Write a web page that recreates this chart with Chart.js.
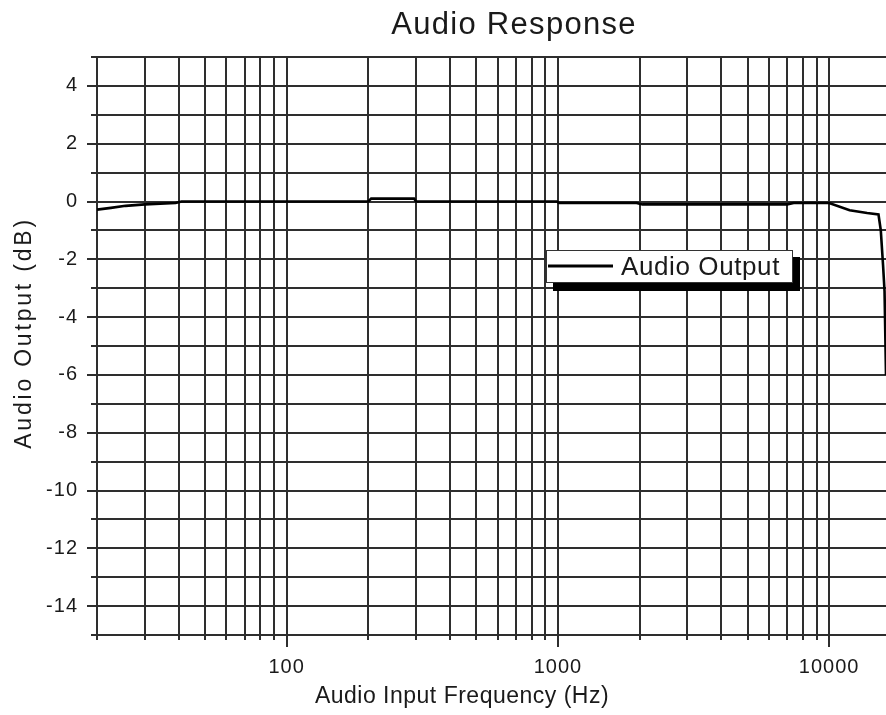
<!DOCTYPE html>
<html><head><meta charset="utf-8">
<script src="https://cdn.jsdelivr.net/npm/chart.js@4/dist/chart.umd.min.js"></script>
<style>html,body{margin:0;padding:0;background:#fff}canvas{display:block}</style>
</head><body>
<canvas id="c" width="886" height="715"></canvas>
<script>
// ---- data ----
const freqHz   = [20, 22.5, 25.5, 30, 39, 41, 200, 205, 295, 300, 990, 1010, 1950, 2050, 7000, 7400, 10000, 11900, 13800, 15200, 15500, 15800, 16000, 16200];
const outputDb = [-0.28, -0.22, -0.15, -0.1, -0.05, 0, 0, 0.1, 0.1, 0, 0, -0.05, -0.05, -0.1, -0.1, -0.05, -0.05, -0.3, -0.4, -0.45, -1.0, -2.2, -3.1, -6.0];
const xGridTicks = [20,30,40,50,60,70,80,90,100,200,300,400,500,600,700,800,900,1000,2000,3000,4000,5000,6000,7000,8000,9000,10000];
const xLabelTicks = [100, 1000, 10000];
const yMin = -15, yMax = 5;
const yLabelTicks = [4, 2, 0, -2, -4, -6, -8, -10, -12, -14];
const xMin = 20, xMax = 16200;
const titleText = 'Audio Response';
const xTitleText = 'Audio Input Frequency (Hz)';
const yTitleText = 'Audio Output (dB)';
const seriesName = 'Audio Output';

const FONT = '"Liberation Sans", Arial, sans-serif';
const GRID = '#2e2e2e';
const points = freqHz.map((f, i) => ({x: f, y: outputDb[i]}));

const decorPlugin = {
  id: 'decor',
  beforeDraw(chart) {
    const ctx = chart.ctx;
    ctx.letterSpacing = '1px';
  },
  afterDraw(chart) {
    const ctx = chart.ctx;
    const ca = chart.chartArea;
    const xs = chart.scales.x, ys = chart.scales.y;
    ctx.save();
    ctx.strokeStyle = GRID;
    ctx.lineWidth = 2;
    // x tick marks
    xGridTicks.forEach(v => {
      const px = Math.round(xs.getPixelForValue(v));
      const len = xLabelTicks.includes(v) ? 12 : 5;
      ctx.beginPath(); ctx.moveTo(px, ca.bottom); ctx.lineTo(px, ca.bottom + len); ctx.stroke();
    });
    // y tick marks
    for (let v = yMin; v <= yMax; v++) {
      const py = Math.round(ys.getPixelForValue(v));
      const len = yLabelTicks.includes(v) ? 10 : 6;
      ctx.beginPath(); ctx.moveTo(ca.left - len, py); ctx.lineTo(ca.left, py); ctx.stroke();
    }
    ctx.restore();

    // texts
    ctx.save();
    ctx.fillStyle = '#1a1a1a';
    ctx.textAlign = 'center';
    ctx.textBaseline = 'alphabetic';
    ctx.font = '31px ' + FONT;
    ctx.letterSpacing = '1.3px';
    ctx.fillText(titleText, 514, 34);
    ctx.font = '23px ' + FONT;
    ctx.letterSpacing = '0.5px';
    ctx.fillText(xTitleText, 462, 703);
    ctx.translate(31, 333);
    ctx.rotate(-Math.PI / 2);
    ctx.letterSpacing = '2.8px';
    ctx.fillText(yTitleText, 0, 0);
    ctx.restore();

    // legend box with shadow
    ctx.save();
    const lx = 546, ly = 250, lw = 247, lh = 33;
    ctx.fillStyle = '#000';
    ctx.fillRect(lx + 7, ly + 7, lw, lh + 1);
    ctx.fillStyle = '#fff';
    ctx.fillRect(lx, ly, lw, lh);
    ctx.strokeStyle = '#333';
    ctx.lineWidth = 1;
    ctx.strokeRect(lx + 0.5, ly + 0.5, lw - 1, lh - 1);
    ctx.strokeStyle = '#000';
    ctx.lineWidth = 3;
    ctx.beginPath(); ctx.moveTo(lx + 2, ly + 16); ctx.lineTo(lx + 67, ly + 16); ctx.stroke();
    ctx.fillStyle = '#1a1a1a';
    ctx.font = '26px ' + FONT;
    ctx.letterSpacing = '0.6px';
    ctx.textAlign = 'left';
    ctx.textBaseline = 'alphabetic';
    ctx.fillText(seriesName, lx + 75, ly + 25);
    ctx.restore();
  }
};

new Chart(document.getElementById('c'), {
  type: 'line',
  data: {
    datasets: [{
      label: seriesName,
      data: points,
      borderColor: '#000',
      borderWidth: 2.6,
      pointRadius: 0,
      tension: 0,
      fill: false
    }]
  },
  options: {
    responsive: false,
    animation: false,
    devicePixelRatio: 1,
    layout: {padding: {top: 57, right: 0, left: 0, bottom: 0}},
    plugins: {legend: {display: false}, title: {display: false}, tooltip: {enabled: false}},
    scales: {
      x: {
        type: 'logarithmic',
        min: xMin, max: xMax,
        afterBuildTicks(scale) { scale.ticks = xGridTicks.map(v => ({value: v})); },
        afterFit(scale) { scale.height = 80; },
        grid: {color: GRID, lineWidth: 2, drawTicks: false},
        border: {color: GRID, width: 2},
        ticks: {
          autoSkip: false, maxRotation: 0, padding: 20,
          color: '#1a1a1a',
          font: {family: FONT, size: 20},
          callback: (v) => xLabelTicks.includes(v) ? String(v) : ''
        }
      },
      y: {
        type: 'linear',
        min: yMin, max: yMax,
        afterBuildTicks(scale) {
          const t = []; for (let v = yMax; v >= yMin; v--) t.push({value: v});
          scale.ticks = t;
        },
        afterFit(scale) { scale.width = 97; },
        grid: {color: GRID, lineWidth: 2, drawTicks: false},
        border: {color: GRID, width: 2},
        ticks: {
          autoSkip: false, padding: 19,
          color: '#1a1a1a',
          font: {family: FONT, size: 20},
          callback: (v) => yLabelTicks.includes(v) ? String(v) : ''
        }
      }
    }
  },
  plugins: [decorPlugin]
});
</script>
</body></html>
